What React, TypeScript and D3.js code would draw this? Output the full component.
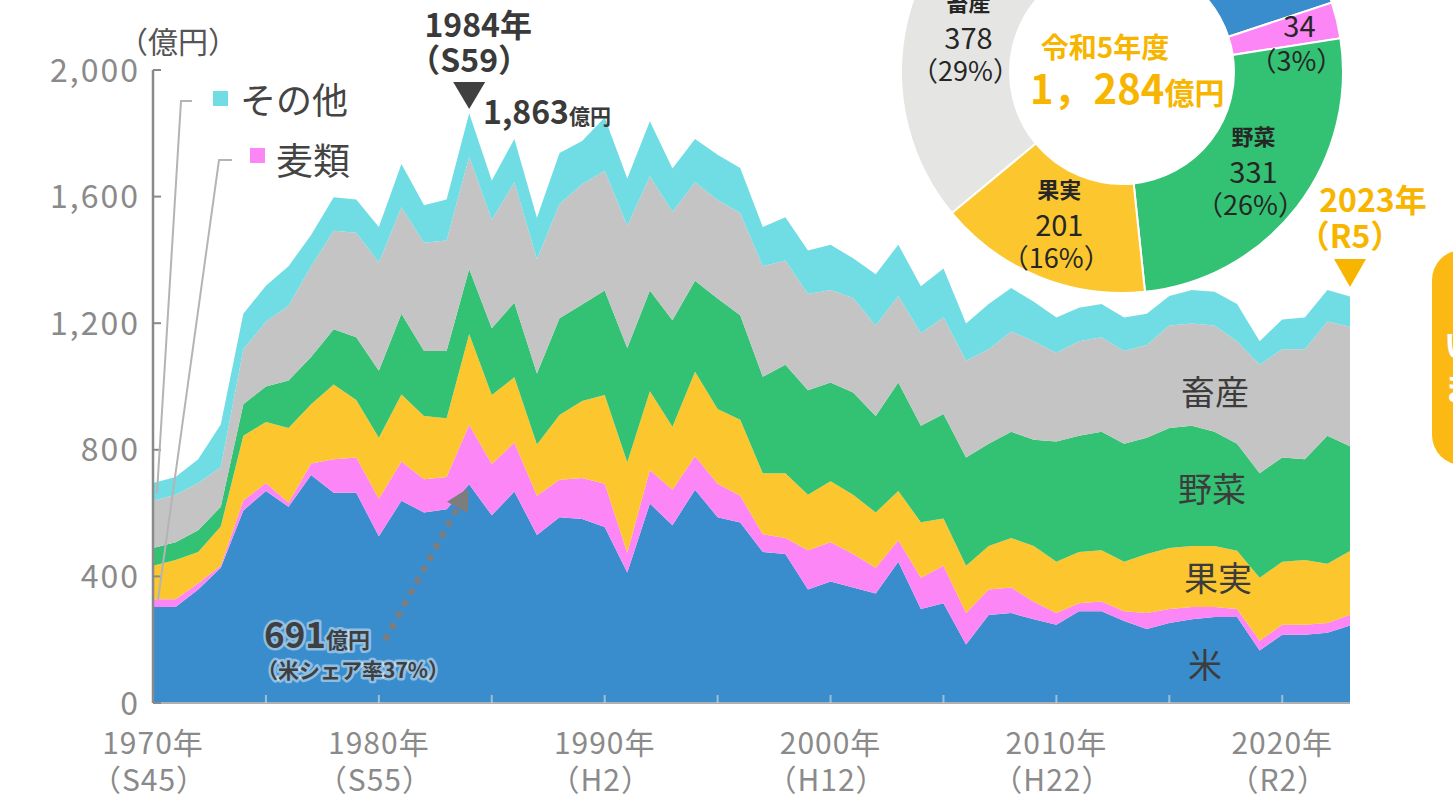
import * as d3 from 'd3';

// years on the x axis
const years = d3.range(1970, 2024);

// values per year (億円)
const rice = [303,303,359,427,608,670,620,720,664,664, 527,639,602,612,691,593,668,531,587,581, 556,412,630,562,674,587,570,477,471,359, 384,365,346,446,297,315,185,278,284,265, 247,290,290,259,234,253,265,272,272,166, 216,216,222,245];
const wheat = [25,25,19,7,32,25,13,37,106,112, 118,124,105,102,188,162,155,124,118,130, 137,63,106,112,106,106,85,56,50,124, 124,106,81,68,99,119,99,81,81,55, 37,25,31,31,50,44,38,31,25,31, 31,31,31,34];
const fruit = [106,124,99,124,204,193,236,187,236,181, 193,212,200,186,287,218,206,162,205,243, 280,286,249,199,267,236,240,193,205,175, 193,187,175,156,175,149,150,137,156,176, 162,162,162,156,187,193,193,193,184,199, 199,205,187,201];
const veg = [56,56,69,62,100,112,150,149,175,199, 212,255,205,212,205,211,236,224,306,305, 330,361,318,336,287,349,330,305,343,330, 312,323,305,343,305,330,342,323,336,336, 380,367,374,373,367,379,380,361,338,330, 330,318,404,331];
const livestock = [149,150,149,125,174,205,236,287,311,330, 342,336,342,349,355,343,380,361,361,380, 379,386,361,343,311,311,323,349,329,304, 292,299,286,273,292,305,305,299,317,311, 280,299,299,293,293,324,323,336,324,343, 342,348,361,378];
const other = [56,56,75,135,112,113,125,99,106,105, 112,137,119,130,137,124,137,131,161,137, 168,149,174,137,137,143,142,124,137,138, 143,125,162,162,149,155,118,143,137,125, 112,106,105,106,99,93,106,106,118,74, 94,100,100,95];

const keys = ['rice', 'wheat', 'fruit', 'veg', 'livestock', 'other'];
const colors: Record<string, string> = {
  rice: '#3a8dcc', wheat: '#fd86f6', fruit: '#fcc62f',
  veg: '#33c173', livestock: '#c4c4c4', other: '#6fdde3'
};

// axis ticks
const yTicks = [0, 400, 800, 1200, 1600, 2000];
const xTickYears = [1970, 1980, 1990, 2000, 2010, 2020];
const xTickEra = ['（S45）', '（S55）', '（H2）', '（H12）', '（H22）', '（R2）'];

// 2023 donut
const pieKeys = ['rice', 'wheat', 'veg', 'fruit', 'livestock', 'other'];
const pieValues = [245, 34, 331, 201, 378, 95];
const pieColors = ['#3a8dcc', '#fd86f6', '#33c173', '#fcc62f', '#e5e6e4', '#6fdde3'];
const pieNames = ['米', '', '野菜', '果実', '畜産', 'その他'];
const piePct = ['19%', '3%', '26%', '16%', '29%', '7%'];

const FONT = "'Noto Sans CJK JP', 'Noto Sans', sans-serif";
const ORANGE = '#f8b500';

export default function App() {
  const W = 1453, H = 800;
  const x = d3.scaleLinear().domain([1970, 2023]).range([153, 1350]);
  const y = d3.scaleLinear().domain([0, 2000]).range([703, 70]);

  const rows = years.map((yr, i) => ({
    year: yr, rice: rice[i], wheat: wheat[i], fruit: fruit[i],
    veg: veg[i], livestock: livestock[i], other: other[i]
  }));
  const series = d3.stack<any>().keys(keys)(rows);
  const area = d3.area<any>()
    .x(d => x(d.data.year))
    .y0(d => y(d[0]))
    .y1(d => y(d[1]));

  // donut
  const cx = 1122, cy = 72;
  const pie = d3.pie<number>().sort(null)
    .startAngle(3 * Math.PI / 180).endAngle(363 * Math.PI / 180);
  const arcs = pie(pieValues);
  const arc = d3.arc<any>().innerRadius(112).outerRadius(221);
  const labelArc = d3.arc<any>().innerRadius(166).outerRadius(166);

  // arrow from the 691 label to the 1984 rice value
  const tipX = x(1984) - 1, tipY = y(691) + 4;
  const fromX = 385, fromY = 640;
  const len = Math.hypot(tipX - fromX, tipY - fromY);
  const ux = (tipX - fromX) / len, uy = (tipY - fromY) / len;
  const bx = tipX - ux * 22, by = tipY - uy * 22;
  const head = `${tipX},${tipY} ${bx - uy * 12},${by + ux * 12} ${bx + uy * 12},${by - ux * 12}`;

  const peakX = x(1984);
  const endX = x(2023);

  return (
    <svg width={W} height={H} style={{ position: 'absolute', left: 0, top: 0, background: '#fff' }} fontFamily={FONT}>
      {/* stacked areas */}
      {series.map(s => (
        <path key={s.key} d={area(s) || ''} fill={colors[s.key]} />
      ))}

      {/* x axis */}
      <line x1={x(1970)} x2={x(2023)} y1={703} y2={703} stroke="#b0b0b0" strokeWidth={2} />
      {d3.range(1975, 2024, 5).map(yr => (
        <line key={yr} x1={x(yr)} x2={x(yr)} y1={703} y2={695} stroke="#c8d4de" strokeWidth={2} opacity={0.7} />
      ))}
      {xTickYears.map((yr, i) => (
        <g key={yr} fill="#8a8a8a" fontSize={30} textAnchor="middle" letterSpacing={1}>
          <text x={x(yr)} y={754}>{yr}年</text>
          <text x={x(yr) - 4} y={791}>{xTickEra[i]}</text>
        </g>
      ))}

      {/* y axis */}
      <line x1={153} x2={153} y1={y(2000)} y2={703} stroke="#8a8a8a" strokeWidth={2.5} />
      {yTicks.map(t => (
        <g key={t}>
          <line x1={153} x2={161} y1={y(t)} y2={y(t)} stroke="#8a8a8a" strokeWidth={2} />
          <text x={140} y={y(t)} dy="0.36em" textAnchor="end" fill="#8a8a8a" fontSize={32} letterSpacing={2}>{d3.format(',')(t)}</text>
        </g>
      ))}
      <text x={118} y={53} fill="#555" fontSize={30}>（億円）</text>

      {/* legend with leader lines */}
      <polyline points={`192,101 181,101 157,493`} fill="none" stroke="#b4b4b4" strokeWidth={2} />
      <polyline points={`232,160 219,160 158,600`} fill="none" stroke="#b4b4b4" strokeWidth={2} />
      <rect x={213} y={91} width={15} height={15} fill={colors.other} />
      <text x={240} y={114} fill="#444" fontSize={36}>その他</text>
      <rect x={250} y={148} width={15} height={15} fill={colors.wheat} />
      <text x={276} y={175} fill="#444" fontSize={37}>麦類</text>

      {/* area labels */}
      <g fill="#3c3c3c" fontSize={34} textAnchor="middle">
        <text x={1215} y={405}>畜産</text>
        <text x={1212} y={502}>野菜</text>
        <text x={1218} y={591}>果実</text>
        <text x={1205} y={678}>米</text>
      </g>

      {/* 1984 peak */}
      <g fill="#3a3a3a" fontWeight="bold" textAnchor="middle">
        <text x={peakX + 9} y={37} fontSize={32}>1984年</text>
        <text x={peakX} y={72} fontSize={32}>（S59）</text>
      </g>
      <polygon points={`${peakX - 16},82 ${peakX + 16},82 ${peakX},109`} fill="#404040" />
      <text x={483} y={124} fill="#3a3a3a" fontWeight="bold">
        <tspan fontSize={32}>1,863</tspan><tspan fontSize={21}>億円</tspan>
      </text>

      {/* rice share note */}
      <line x1={fromX} y1={fromY} x2={bx} y2={by} stroke="#7d7d7d" strokeWidth={6} strokeDasharray="6 7" />
      <polygon points={head} fill="#7d7d7d" />
      <g fill="#3f3f3f" fontWeight="bold" stroke="#ffffff" strokeOpacity={0.45} strokeWidth={5} paintOrder="stroke" strokeLinejoin="round">
        <text x={264} y={648}><tspan fontSize={35}>691</tspan><tspan fontSize={22}>億円</tspan></text>
        <text x={257} y={678} fontSize={21}>（米シェア率37%）</text>
      </g>

      {/* donut for 2023 */}
      <g transform={`translate(${cx},${cy})`}>
        {arcs.map((a, i) => (
          <path key={pieKeys[i]} d={arc(a) || ''} fill={pieColors[i]} stroke="#fff" strokeWidth={2} />
        ))}
        {arcs.map((a, i) => {
          if (i === 0 || i === 5) return null;
          let [lx, ly] = labelArc.centroid(a);
          if (i === 1) { lx += 16; ly += 8; }
          if (i === 4) { lx += 8; ly += 5; }
          return (
            <g key={'l' + i} fill="#262626" textAnchor="middle">
              {pieNames[i] && <text x={lx} y={ly - 28} fontSize={22} fontWeight="bold">{pieNames[i]}</text>}
              <text x={lx} y={pieNames[i] ? ly + 10 : ly - 4} fontSize={29}>{pieValues[i]}</text>
              <text x={lx - 3} y={pieNames[i] ? ly + 42 : ly + 30} fontSize={27}>（{piePct[i]}）</text>
            </g>
          );
        })}
        <text x={-17} y={-14} fill={ORANGE} fontSize={28} fontWeight="bold" textAnchor="middle">令和5年度</text>
        <text x={-92} y={32} fill={ORANGE} fontWeight="bold">
          <tspan fontSize={40}>1，284</tspan><tspan fontSize={30}>億円</tspan>
        </text>
      </g>

      {/* 2023 marker */}
      <g fill={ORANGE} fontWeight="bold" textAnchor="middle">
        <text x={endX + 23} y={212} fontSize={32}>2023年</text>
        <text x={endX} y={248} fontSize={32}>（R5）</text>
      </g>
      <polygon points={`${endX - 16},259 ${endX + 16},259 ${endX},287`} fill={ORANGE} />

      {/* box cut off at the right edge */}
      <rect x={1432} y={250} width={80} height={215} rx={30} fill="#fdb913" />
      <g fill="#fff" fontSize={32} fontWeight="bold">
        <text x={1444} y={357}>い</text>
        <text x={1444} y={400}>ま</text>
      </g>
    </svg>
  );
}
